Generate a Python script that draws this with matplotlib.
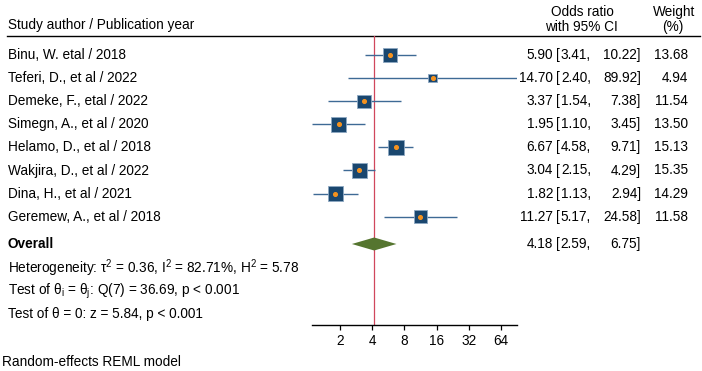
"""Forest plot: random-effects meta-analysis of odds ratios (Stata-style)."""
import matplotlib
matplotlib.use("Agg")
import matplotlib.pyplot as plt
from matplotlib.ticker import FixedLocator, FixedFormatter, NullLocator

plt.rcParams["font.family"] = ["Liberation Sans", "DejaVu Sans"]
plt.rcParams["mathtext.fontset"] = "custom"
plt.rcParams["mathtext.rm"] = "Liberation Sans"
plt.rcParams["mathtext.it"] = "Liberation Sans"
plt.rcParams["mathtext.bf"] = "Liberation Sans:bold"

studies = [
    "Binu, W. etal / 2018",
    "Teferi, D., et al / 2022",
    "Demeke, F., etal / 2022",
    "Simegn, A., et al / 2020",
    "Helamo, D., et al / 2018",
    "Wakjira, D., et al / 2022",
    "Dina, H., et al / 2021",
    "Geremew, A., et al / 2018",
]
odds = [5.90, 14.70, 3.37, 1.95, 6.67, 3.04, 1.82, 11.27]
ci_low = [3.41, 2.40, 1.54, 1.10, 4.58, 2.15, 1.13, 5.17]
ci_high = [10.22, 89.92, 7.38, 3.45, 9.71, 4.29, 2.94, 24.58]
weights = [13.68, 4.94, 11.54, 13.50, 15.13, 15.35, 14.29, 11.58]
overall = (4.18, 2.59, 6.75)
stats_lines = [
    r"Heterogeneity: $\mathregular{\tau^2}$ = 0.36, $\mathregular{I^2}$ = 82.71%, $\mathregular{H^2}$ = 5.78",
    r"Test of $\mathregular{\theta_i}$ = $\mathregular{\theta_j}$: Q(7) = 36.69, p < 0.001",
    "Test of \u03b8 = 0: z = 5.84, p < 0.001",
]
xticks = [2, 4, 8, 16, 32, 64]

W, H = 702, 371
FS = 9.8
NAVY = "#1a476f"
CI_COL = "#3e6a95"
GREEN = "#55752f"
RED = "#d0475c"

fig = plt.figure(figsize=(W / 100, H / 100), dpi=100)
# background axes in pixel units for all the text
bg = fig.add_axes([0, 0, 1, 1])
bg.set_xlim(0, W)
bg.set_ylim(H, 0)
bg.axis("off")

row_y = [55 + 23.1 * i for i in range(len(studies))]
overall_y = 244
stats_y = [268, 291, 314]

# headers
bg.text(8, 25, "Study author / Publication year", fontsize=FS, va="center")
bg.text(582, 12, "Odds ratio", fontsize=FS, va="center", ha="center")
bg.text(581, 27, "with 95% CI", fontsize=FS, va="center", ha="center")
bg.text(674, 12, "Weight", fontsize=FS, va="center", ha="center")
bg.text(673, 27, "(%)", fontsize=FS, va="center", ha="center")
bg.plot([7, 700], [36, 36], color="black", lw=1.0)


def ci_text(y, est, lo, hi):
    bg.text(553, y, f"{est:.2f}", fontsize=FS, va="center", ha="right")
    bg.text(556, y, "[", fontsize=FS, va="center", ha="left")
    bg.text(591, y, f"{lo:.2f},", fontsize=FS, va="center", ha="right")
    bg.text(641, y, f"{hi:.2f}]", fontsize=FS, va="center", ha="right")


for y, name, e, lo, hi, w in zip(row_y, studies, odds, ci_low, ci_high, weights):
    bg.text(8, y, name, fontsize=FS, va="center")
    ci_text(y, e, lo, hi)
    bg.text(688, y, f"{w:.2f}", fontsize=FS, va="center", ha="right")

bg.text(8, overall_y, "Overall", fontsize=FS, va="center", fontweight="bold")
ci_text(overall_y, *overall)
for y, s in zip(stats_y, stats_lines):
    bg.text(8, y, s, fontsize=FS, va="center")
bg.text(2, 362, "Random-effects REML model", fontsize=FS, va="center")

# forest panel
x0, x1, ytop, ybot = 312, 517, 36, 325
ax = fig.add_axes([x0 / W, (H - ybot) / H, (x1 - x0) / W, (ybot - ytop) / H])
ax.patch.set_alpha(0)
ax.set_xscale("log", base=2)
ax.set_xlim(min(ci_low), max(ci_high))
ax.set_ylim(ybot, ytop)
for side in ("top", "right", "left"):
    ax.spines[side].set_visible(False)
ax.spines["bottom"].set_linewidth(1.0)
ax.set_yticks([])
ax.xaxis.set_major_locator(FixedLocator(xticks))
ax.xaxis.set_major_formatter(FixedFormatter([str(t) for t in xticks]))
ax.xaxis.set_minor_locator(NullLocator())
ax.tick_params(axis="x", length=3.5, width=0.9, pad=3, labelsize=FS)

ax.axvline(overall[0], color=RED, lw=0.9, zorder=1)
ax.hlines(row_y, ci_low, ci_high, color=CI_COL, lw=1.0, zorder=2)
ax.scatter(odds, row_y, s=[8.0 * w for w in weights], marker="s", color=NAVY,
           edgecolors="#8ea8c3", linewidths=0.6, zorder=3, clip_on=False)
ax.scatter(odds, row_y, s=7, color="#f5921e", zorder=4, clip_on=False)

est, lo, hi = overall
hh = 6.5
ax.fill([lo, est, hi, est], [overall_y, overall_y - hh, overall_y, overall_y + hh],
        color=GREEN, zorder=3, lw=0)

fig.savefig("out.png", dpi=100)
